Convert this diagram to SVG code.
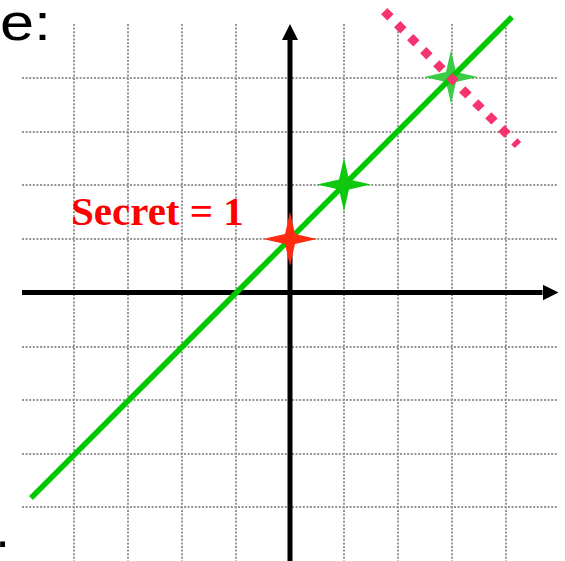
<svg xmlns="http://www.w3.org/2000/svg" width="565" height="561" viewBox="0 0 565 561">
  <style>
    .grid line { stroke: #959595; stroke-width: 2; stroke-dasharray: 2 1.6; }
    .axis { stroke: #000; stroke-width: 5; fill: none; }
    .label { font-family: "Liberation Sans", Arial, sans-serif; fill: #000; }
    .secret { font-family: "Liberation Serif", "Times New Roman", serif; font-weight: bold; fill: #ff0000; }
  </style>
  <defs>
    <marker id="arrow" markerUnits="userSpaceOnUse" markerWidth="16" markerHeight="16" refX="0" refY="8" orient="auto">
      <path d="M0,0 L16,8 L0,16 Z" fill="#000"/>
    </marker>
    <path id="star" d="M0,-27 L5,-5 L27,0 L5,5 L0,27 L-5,5 L-27,0 L-5,-5 Z"/>
  </defs>
  <rect width="565" height="561" fill="#fff"/>

  <g id="grid" class="grid">
    <line x1="74" y1="24" x2="74" y2="561"/>
    <line x1="128" y1="24" x2="128" y2="561"/>
    <line x1="182" y1="24" x2="182" y2="561"/>
    <line x1="236" y1="24" x2="236" y2="561"/>
    <line x1="344" y1="24" x2="344" y2="561"/>
    <line x1="398" y1="24" x2="398" y2="561"/>
    <line x1="452" y1="24" x2="452" y2="561"/>
    <line x1="506" y1="24" x2="506" y2="561"/>
    <line x1="22" y1="78" x2="558" y2="78"/>
    <line x1="22" y1="132" x2="558" y2="132"/>
    <line x1="22" y1="185" x2="558" y2="185"/>
    <line x1="22" y1="239" x2="558" y2="239"/>
    <line x1="22" y1="347" x2="558" y2="347"/>
    <line x1="22" y1="400" x2="558" y2="400"/>
    <line x1="22" y1="454" x2="558" y2="454"/>
    <line x1="22" y1="507" x2="558" y2="507"/>
  </g>

  <g id="axes">
    <line class="axis" x1="22" y1="292.5" x2="542.5" y2="292.5" marker-end="url(#arrow)"/>
    <line class="axis" x1="290" y1="561" x2="290" y2="40" marker-end="url(#arrow)"/>
  </g>

  <g id="star-top">
    <use href="#star" transform="translate(451,77)" fill="#3acc44"/>
  </g>

  <g id="connectors">
    <line id="green-line" x1="31" y1="498" x2="512" y2="17" stroke="#00c800" stroke-width="5.5"/>
    <line id="pink-line" x1="384.2" y1="11.2" x2="518" y2="145" stroke="#f5346f" stroke-width="8.8" stroke-dasharray="8.8 9.6"/>
  </g>

  <g id="star-mid">
    <use href="#star" transform="translate(344,184.5)" fill="#11c811"/>
  </g>

  <g id="star-secret">
    <use href="#star" transform="translate(290,239)" fill="#ff2a10"/>
  </g>

  <g id="secret-label">
    <text class="secret" x="71" y="225" font-size="41">Secret = 1</text>
  </g>

  <g id="corner-text">
    <text class="label" x="0" y="40" font-size="51" transform="translate(0,0) scale(1.2,1)">e:</text>
    <text class="label" x="-4.6" y="547" font-size="51">.</text>
  </g>
</svg>
